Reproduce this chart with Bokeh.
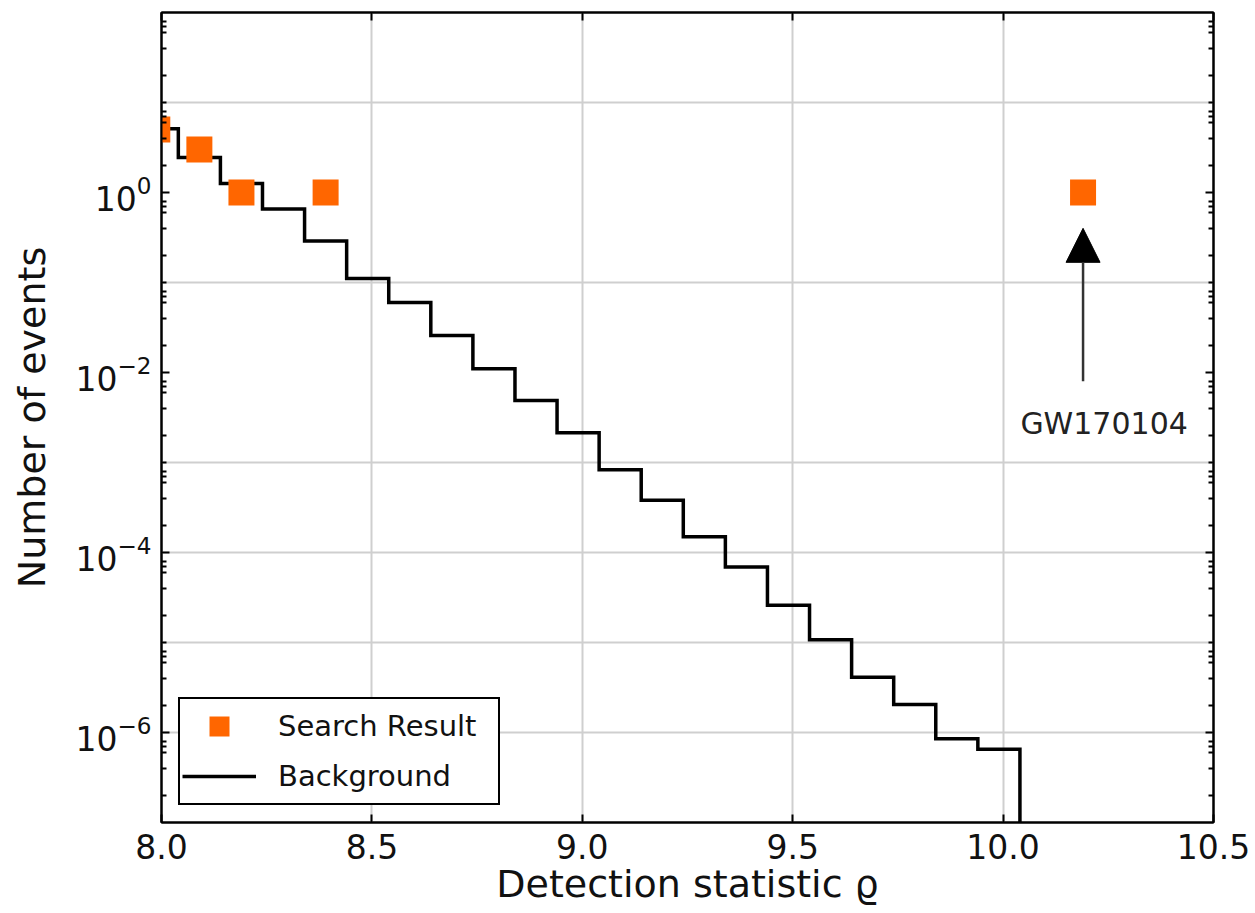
from bokeh.plotting import figure
from bokeh.models import (FixedTicker, Grid, LinearAxis, LogAxis, Legend, LegendItem,
                          Arrow, NormalHead, Label, CustomJSTickFormatter,
                          PrintfTickFormatter)
from bokeh.embed import file_html
from bokeh.resources import INLINE

# Background: expected number of noise events per detection-statistic bin
bg_edges = [7.94, 8.04, 8.14, 8.24, 8.34, 8.44, 8.54, 8.64, 8.74, 8.84, 8.94,
            9.04, 9.14, 9.24, 9.34, 9.44, 9.54, 9.64, 9.74, 9.84, 9.94, 10.04]
bg_counts = [5.1, 2.45, 1.26, 0.655, 0.29, 0.111, 0.060, 0.0258, 0.0110, 0.0049,
             0.00214, 8.3e-4, 3.8e-4, 1.5e-4, 6.9e-5, 2.6e-5, 1.07e-5, 4.1e-6,
             2.05e-6, 8.5e-7, 6.5e-7]

# Search result: number of triggers found in each bin (bin centres)
result_x = [7.99, 8.09, 8.19, 8.39, 10.19]
result_n = [5, 3, 1, 1, 1]

event_name = "GW170104"

# Axis ticks
x_ticks = [8.0, 8.5, 9.0, 9.5, 10.0, 10.5]
y_label_ticks = [1, 1e-2, 1e-4, 1e-6]
y_grid_ticks = [10, 1e-1, 1e-3, 1e-4, 1e-5, 1e-6]
y_minor_subs = [2, 4, 6, 7, 8]

X_MIN, X_MAX = 8.0, 10.5
Y_MIN, Y_MAX = 1e-7, 1e2

FONT = "DejaVu Sans"
ORANGE = "#ff6600"

p = figure(width=1255, height=913, x_range=(X_MIN, X_MAX), y_range=(Y_MIN, Y_MAX),
           y_axis_type="log", output_backend="svg", toolbar_location=None,
           min_border_left=161, min_border_right=42, min_border_top=12,
           min_border_bottom=91, background_fill_color="white",
           border_fill_color="white")
p.outline_line_color = "black"
p.outline_line_width = 2

minor_y = sorted(set([s * 10.0 ** d for d in range(-8, 3) for s in y_minor_subs] +
                     [t for t in y_grid_ticks if t not in y_label_ticks]))
y_ticker = FixedTicker(ticks=y_label_ticks, minor_ticks=minor_y)
x_ticker = FixedTicker(ticks=x_ticks, minor_ticks=[])


def style_axis(ax):
    ax.axis_line_color = "black"
    ax.axis_line_width = 2
    ax.major_tick_in = 8
    ax.major_tick_out = 0
    ax.minor_tick_in = 5
    ax.minor_tick_out = 0
    ax.major_tick_line_width = 2
    ax.minor_tick_line_width = 2
    ax.major_tick_line_color = "black"
    ax.minor_tick_line_color = "black"
    ax.major_label_text_font = FONT
    ax.major_label_text_color = "#111111"
    ax.axis_label_text_font = FONT
    ax.axis_label_text_font_style = "normal"
    ax.axis_label_text_color = "#111111"


# bottom axis
xa = p.xaxis[0]
xa.ticker = x_ticker
xa.formatter = PrintfTickFormatter(format="%.1f")
style_axis(xa)
xa.major_label_text_font_size = "33px"
xa.major_label_standoff = 11
xa.axis_label = "Detection statistic ϱ"
xa.axis_label_text_font_size = "38px"
xa.axis_label_standoff = 0

# left axis
ya = p.yaxis[0]
ya.ticker = y_ticker
style_axis(ya)
ya.major_label_text_font_size = "33px"
ya.major_label_standoff = 10
ya.axis_label = "Number of events"
ya.axis_label_text_font_size = "38px"
ya.axis_label_standoff = 18

# mirrored ticks on top and right
top = LinearAxis(ticker=x_ticker, formatter=CustomJSTickFormatter(code="return ''"))
style_axis(top)
top.major_label_text_font_size = "1px"
top.major_label_standoff = 0
p.add_layout(top, "above")

right = LogAxis(ticker=y_ticker, formatter=CustomJSTickFormatter(code="return ''"))
style_axis(right)
right.major_label_text_font_size = "1px"
right.major_label_standoff = 0
p.add_layout(right, "right")

# grid
p.xgrid.ticker = x_ticker
p.xgrid.grid_line_color = "#cfcfcf"
p.xgrid.grid_line_width = 2
p.ygrid.visible = False
ygrid = Grid(dimension=1, ticker=FixedTicker(ticks=y_grid_ticks),
             grid_line_color="#cfcfcf", grid_line_width=2)
p.add_layout(ygrid)

# background histogram as a step line, dropping to the axis after the last bin
step_x = bg_edges
step_y = bg_counts + [Y_MIN]
bg = p.step(step_x, step_y, mode="after", line_color="black", line_width=3.5,
            line_join="miter")

# search result markers
res = p.scatter(result_x, result_n, marker="square", size=26, fill_color=ORANGE,
                line_color=ORANGE, line_width=0)

# annotation for the loudest event
ev_x = result_x[-1]
arrow = Arrow(end=NormalHead(size=34, fill_color="black", line_color="black"),
              x_start=ev_x, y_start=8e-3, x_end=ev_x, y_end=0.4,
              line_color="#333333", line_width=2.5)
p.add_layout(arrow)
p.add_layout(Label(x=10.24, y=2.7e-3, text=event_name, text_align="center",
                   text_baseline="middle", text_font=FONT, text_font_size="30px",
                   text_color="#222222"))

legend = Legend(items=[LegendItem(label="Search Result", renderers=[res]),
                       LegendItem(label="Background", renderers=[bg])],
                location="bottom_left", margin=17, padding=2, spacing=-7,
                glyph_width=74, glyph_height=50, label_height=50, label_width=218,
                label_standoff=22, label_text_font=FONT, label_text_font_size="29px",
                label_text_color="#111111", border_line_color="black",
                border_line_alpha=1.0, border_line_width=2,
                background_fill_color="white", background_fill_alpha=1.0)
p.add_layout(legend)

open("out.html", "w").write(file_html(p, INLINE))
